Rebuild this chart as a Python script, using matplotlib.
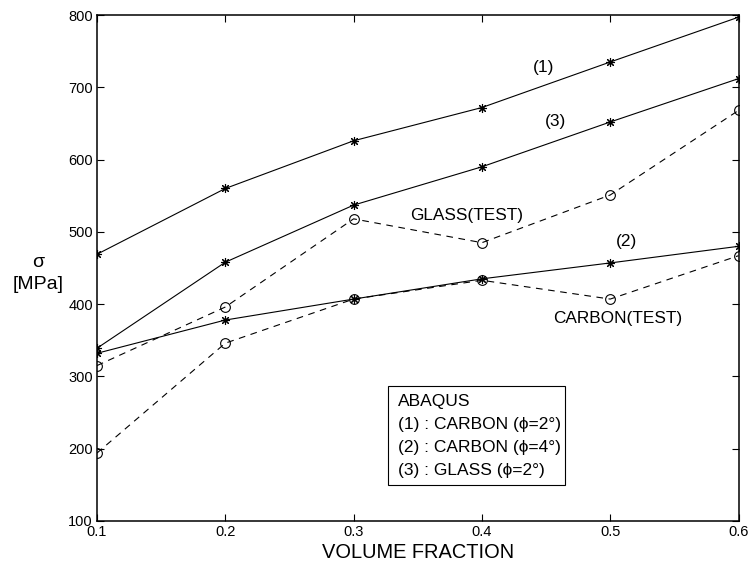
import matplotlib
matplotlib.use("Agg")
import matplotlib.pyplot as plt
from matplotlib.patches import Rectangle

plt.rcParams['font.family'] = ['Liberation Sans', 'DejaVu Sans']

# Volume fractions
vf = [0.1, 0.2, 0.3, 0.4, 0.5, 0.6]

# ABAQUS predictions (MPa)
carbon_phi2 = [469, 560, 626, 672, 735, 797]   # (1)
carbon_phi4 = [332, 378, 407, 435, 457, 480]   # (2)
glass_phi2 = [339, 458, 537, 590, 652, 712]    # (3)

# Test results (MPa)
glass_test = [315, 396, 518, 485, 551, 668]
carbon_test = [194, 346, 407, 433, 407, 467]

xticks = [0.1, 0.2, 0.3, 0.4, 0.5, 0.6]
xticklabels = ["0.1", "0.2", "0.3", "0.4", "0.5", "0.6"]
yticks = [100, 200, 300, 400, 500, 600, 700, 800]

legend_lines = ["ABAQUS",
                "(1) : CARBON (ϕ=2°)",
                "(2) : CARBON (ϕ=4°)",
                "(3) : GLASS (ϕ=2°)"]

fig = plt.figure(figsize=(7.49, 5.71), dpi=100)
ax = fig.add_axes([0.1295, 0.0876, 0.8565, 0.8861])

star = (8, 2, 0)
solid_kw = dict(color='black', lw=0.8, marker=star, ms=6.5, mew=0.8)
dash_kw = dict(color='black', lw=0.8, ls=(0, (6, 5)), marker='o', ms=7,
               mfc='none', mew=0.8)

ax.plot(vf, carbon_phi2, **solid_kw)
ax.plot(vf, carbon_phi4, **solid_kw)
ax.plot(vf, glass_phi2, **solid_kw)
ax.plot(vf, glass_test, **dash_kw)
ax.plot(vf, carbon_test, **dash_kw)

ax.set_xlim(0.1, 0.6)
ax.set_ylim(100, 800)
ax.set_xticks(xticks)
ax.set_xticklabels(xticklabels)
ax.set_yticks(yticks)
ax.tick_params(direction='in', length=5, width=0.8, top=True, right=True,
               labelsize=10.5, pad=3)
for s in ax.spines.values():
    s.set_linewidth(1.1)

ax.set_xlabel("VOLUME FRACTION", fontsize=14.4, labelpad=3)
fig.text(0.051, 0.541, "σ", fontsize=14, ha='center', va='center')
fig.text(0.051, 0.501, "[MPa]", fontsize=14, ha='center', va='center')

tkw = dict(fontsize=12.4, ha='center', va='center')
ax.text(0.448, 727, "(1)", **tkw)
ax.text(0.457, 652, "(3)", **tkw)
ax.text(0.513, 487, "(2)", **tkw)
ax.text(0.388, 523, "GLASS(TEST)", **tkw)
ax.text(0.506, 380, "CARBON(TEST)", **tkw)

# Legend box for the ABAQUS curves
ax.add_patch(Rectangle((0.327, 150), 0.138, 137, fill=True, fc='white',
                       ec='black', lw=0.8, zorder=3))
for line, yv in zip(legend_lines, [265, 233, 202, 170]):
    ax.text(0.3348, yv, line, fontsize=12.5, ha='left', va='center',
            zorder=4)

fig.savefig("out.png", dpi=100)
